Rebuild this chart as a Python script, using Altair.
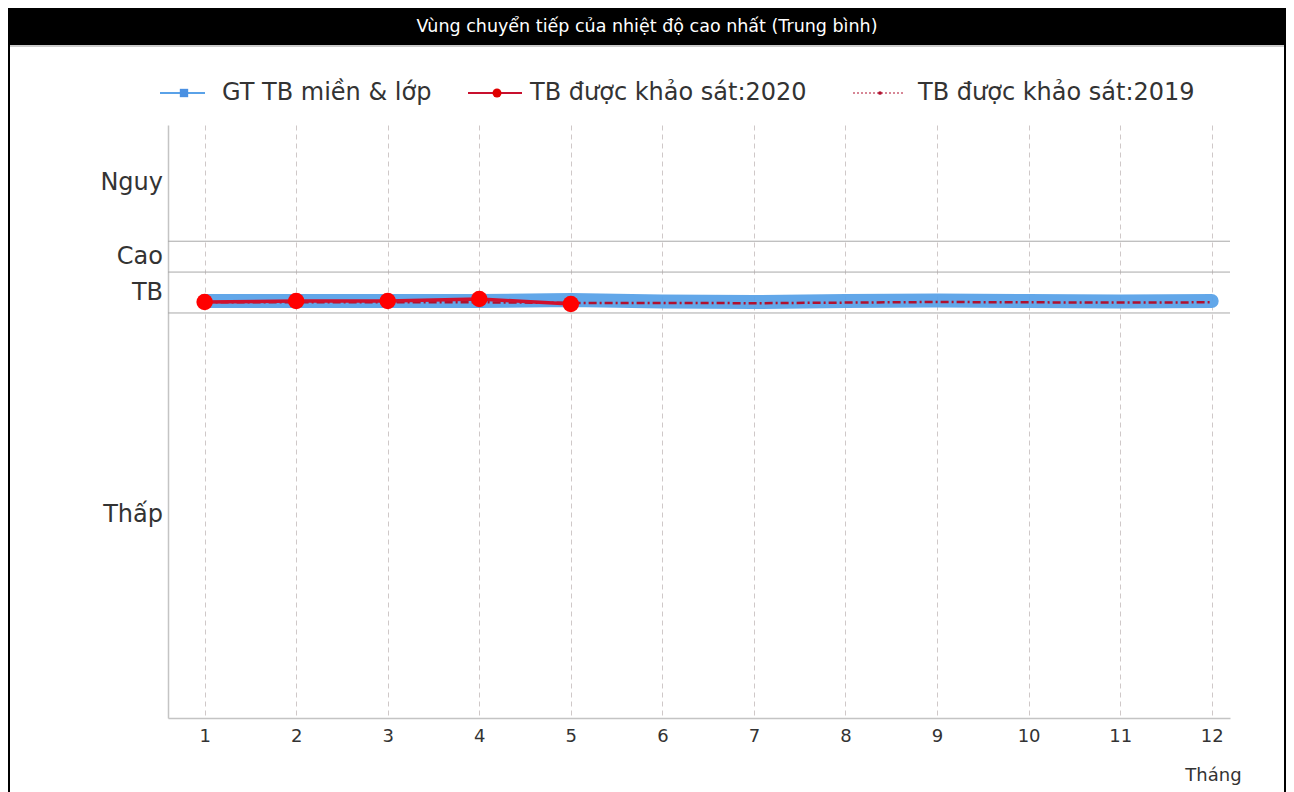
import altair as alt
import pandas as pd

title_text = "Vùng chuyển tiếp của nhiệt độ cao nhất (Trung bình)"
months = list(range(1, 13))
series_names = ["GT TB miền & lớp", "TB được khảo sát:2020", "TB được khảo sát:2019"]
avg_vals = [70.32, 70.32, 70.32, 70.32, 70.49, 70.24, 70.15, 70.32, 70.40, 70.32, 70.24, 70.32]
y2020_months = [1, 2, 3, 4, 5]
y2020_vals = [70.15, 70.32, 70.32, 70.66, 69.81]
y2019_vals = [70.10, 70.10, 70.10, 70.10, 70.00, 70.00, 69.95, 70.05, 70.15, 70.10, 70.05, 70.10]
band_names = ["Thấp", "TB", "Cao", "Nguy"]
band_lo = [0, 68.3, 75.2, 80.4]
band_hi = [68.3, 75.2, 80.4, 100]
x_label = "Tháng"

W, H = 1062, 593
FONT = "DejaVu Sans"

df_avg = pd.DataFrame({"month": months, "value": avg_vals})
df_2020 = pd.DataFrame({"month": y2020_months, "value": y2020_vals})
df_2019 = pd.DataFrame({"month": months, "value": y2019_vals})
df_bands = pd.DataFrame({"band": band_names, "lo": band_lo, "hi": band_hi})
df_bands["mid"] = (df_bands["lo"] + df_bands["hi"]) / 2
df_bounds = df_bands[df_bands["lo"] > 0]

xscale = alt.Scale(domain=[0.6, 12.2], nice=False, zero=False)
yscale = alt.Scale(domain=[0, 100], nice=False, zero=False)

X = alt.X("month:Q", scale=xscale, axis=alt.Axis(
    values=months, format="d", grid=True, gridDash=[5, 4], gridColor="#cfc8c8", gridWidth=1,
    domainColor="#c4c4c4", domainWidth=1.5, ticks=False, labelPadding=9,
    labelFontSize=18, labelColor="#333", labelFont=FONT, labelFontWeight="normal",
    title=x_label, titleFont=FONT, titleFontSize=18, titleFontWeight="normal",
    titleColor="#333", titleX=1045, titleY=57, titleAlign="center", titleBaseline="middle"))
Y = alt.Y("value:Q", scale=yscale, axis=alt.Axis(
    values=[], domainColor="#c4c4c4", domainWidth=1.5, ticks=False, labels=False,
    grid=False, title=None))

base_axes = alt.Chart(df_avg).mark_line(opacity=0).encode(x=X, y=Y)

bound_rules = alt.Chart(df_bounds).mark_rule(color="#a8a8a8", strokeWidth=1).encode(
    y=alt.Y("lo:Q", scale=yscale), x=alt.value(0), x2=alt.value(W))

band_labels = alt.Chart(df_bands).mark_text(
    align="right", baseline="middle", fontSize=24, font=FONT, color="#333").encode(
    y=alt.Y("mid:Q", scale=yscale), x=alt.value(-5), text="band:N")

avg_line = alt.Chart(df_avg).mark_line(
    color="#5aa2e8", strokeWidth=14, opacity=0.95, strokeCap="round").encode(
    x=alt.X("month:Q", scale=xscale), y=alt.Y("value:Q", scale=yscale))

line_2019 = alt.Chart(df_2019).mark_line(
    color="#b0102e", strokeWidth=2.5, strokeDash=[8, 3, 2, 3]).encode(
    x=alt.X("month:Q", scale=xscale), y=alt.Y("value:Q", scale=yscale))

line_2020 = alt.Chart(df_2020).mark_line(color="#d0102e", strokeWidth=3.5).encode(
    x=alt.X("month:Q", scale=xscale), y=alt.Y("value:Q", scale=yscale))
pts_2020 = alt.Chart(df_2020).mark_circle(color="#ff0000", size=270, opacity=1).encode(
    x=alt.X("month:Q", scale=xscale), y=alt.Y("value:Q", scale=yscale))

# legend (manual)
one = pd.DataFrame({"a": [0]})
LY = -32
leg = []
leg.append(alt.Chart(one).mark_rule(color="#5aa2e8", strokeWidth=2).encode(
    x=alt.value(-8), x2=alt.value(37), y=alt.value(LY)))
leg.append(alt.Chart(one).mark_square(color="#4a90e2", size=70, opacity=1).encode(
    x=alt.value(16), y=alt.value(LY)))
leg.append(alt.Chart(one).mark_rule(color="#c8102e", strokeWidth=2).encode(
    x=alt.value(300), x2=alt.value(354), y=alt.value(LY)))
leg.append(alt.Chart(one).mark_circle(color="#e00000", size=80, opacity=1).encode(
    x=alt.value(329), y=alt.value(LY)))
leg.append(alt.Chart(one).mark_rule(color="#b0102e", strokeWidth=1.2, strokeDash=[2, 2]).encode(
    x=alt.value(685), x2=alt.value(737), y=alt.value(LY)))
leg.append(alt.Chart(one).mark_circle(color="#b0102e", size=14, opacity=1).encode(
    x=alt.value(712), y=alt.value(LY)))
for i, xx in enumerate([54, 362, 750]):
    leg.append(alt.Chart(pd.DataFrame({"t": [series_names[i]]})).mark_text(
        align="left", baseline="middle", fontSize=24, font=FONT, color="#333").encode(
        x=alt.value(xx), y=alt.value(LY), text="t:N"))

# frame & title bar (decoration)
frame = alt.Chart(one).mark_rect(fill="white", fillOpacity=0, stroke="black", strokeWidth=2).encode(
    x=alt.value(-159), x2=alt.value(1117), y=alt.value(-116), y2=alt.value(700))
bar = alt.Chart(one).mark_rect(color="black").encode(
    x=alt.value(-160), x2=alt.value(1118), y=alt.value(-117), y2=alt.value(-80))
bar_line = alt.Chart(one).mark_rule(color="#999", strokeWidth=1).encode(
    x=alt.value(-158), x2=alt.value(1116), y=alt.value(-79))
title_mark = alt.Chart(pd.DataFrame({"t": [title_text]})).mark_text(
    align="center", baseline="middle", fontSize=17.5, font=FONT, color="white").encode(
    x=alt.value(479), y=alt.value(-98.5), text="t:N")

chart = alt.layer(
    base_axes, bound_rules, band_labels, avg_line, line_2019, line_2020, pts_2020,
    *leg, frame, bar, bar_line, title_mark
).properties(
    width=W, height=H, autosize=alt.AutoSizeParams(type="none"),
    padding={"left": 160, "top": 117, "right": 56, "bottom": 74},
    background="white"
).configure_view(stroke=None)

chart.save("out.html", embed_options={"renderer": "svg", "actions": False})
